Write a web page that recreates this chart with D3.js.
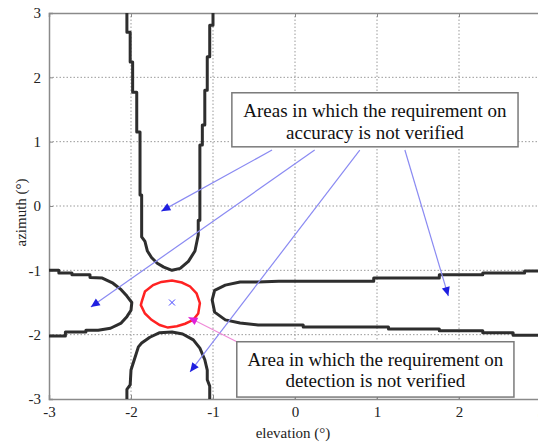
<!DOCTYPE html>
<html>
<head>
<meta charset="utf-8">
<script src="https://cdn.jsdelivr.net/npm/d3@7"></script>
<style>
  body { margin: 0; background: #fff; }
  svg, svg text { font-family: "Liberation Serif", "Times New Roman", Tinos, "DejaVu Serif", serif; }
</style>
</head>
<body>
<div id="chart"></div>
<script>
const w = 538;
const h = 443;
const margin = { top: 13, left: 49, bottom: 44 };
const serif = "'Liberation Serif', 'Times New Roman', serif";

const xTicks = [-3, -2, -1, 0, 1, 2, 3];
const yTicks = [-3, -2, -1, 0, 1, 2, 3];

// black contours (elevation, azimuth)
const topLobe = [[-2.05,3],[-2.05,2.70],[-2.01,2.70],[-2.01,2.24],[-1.98,2.24],[-1.98,1.77],[-1.93,1.77],[-1.93,1.15],[-1.89,1.15],[-1.89,0.17],[-1.87,0.17],[-1.87,-0.48],[-1.83,-0.55],[-1.80,-0.70],[-1.75,-0.80],[-1.68,-0.89],[-1.60,-0.95],[-1.50,-1.0],[-1.40,-0.97],[-1.30,-0.86],[-1.22,-0.70],[-1.18,-0.45],[-1.18,-0.22],[-1.16,-0.22],[-1.16,0.95],[-1.13,0.95],[-1.13,1.26],[-1.10,1.26],[-1.10,1.80],[-1.07,1.80],[-1.07,2.32],[-1.04,2.32],[-1.04,2.81],[-1.00,2.81],[-1.00,3]];
const bottomLobe = [[-2.05,-3],[-2.05,-2.85],[-2.01,-2.78],[-2.0,-2.55],[-1.96,-2.39],[-1.91,-2.19],[-1.87,-2.13],[-1.77,-2.04],[-1.65,-1.97],[-1.50,-1.96],[-1.37,-1.99],[-1.24,-2.08],[-1.16,-2.21],[-1.10,-2.39],[-1.07,-2.55],[-1.07,-2.70],[-1.04,-2.80],[-1.04,-3]];
const leftLobe = [[-3,-1.0],[-2.88,-1.0],[-2.88,-1.04],[-2.72,-1.04],[-2.72,-1.07],[-2.5,-1.07],[-2.5,-1.11],[-2.35,-1.12],[-2.22,-1.2],[-2.12,-1.3],[-2.05,-1.4],[-1.99,-1.5],[-2.0,-1.62],[-2.05,-1.72],[-2.12,-1.82],[-2.25,-1.9],[-2.4,-1.93],[-2.55,-1.93],[-2.55,-1.96],[-2.8,-1.96],[-2.8,-2.02],[-3,-2.02]];
const rightLobe = [[3,-1.01],[2.80,-1.01],[2.80,-1.04],[2.29,-1.04],[2.29,-1.07],[1.76,-1.07],[1.76,-1.12],[0.96,-1.12],[0.96,-1.17],[-0.2,-1.17],[-0.45,-1.18],[-0.67,-1.18],[-0.85,-1.23],[-0.98,-1.31],[-1.01,-1.46],[-0.98,-1.65],[-0.85,-1.77],[-0.67,-1.82],[-0.45,-1.85],[0.10,-1.85],[0.10,-1.88],[1.14,-1.88],[1.14,-1.91],[1.76,-1.91],[1.76,-1.94],[2.29,-1.94],[2.29,-1.97],[2.66,-1.97],[2.66,-2.01],[3,-2.01]];

// red detection contour
const detection = [[-1.87,-1.49],[-1.83,-1.33],[-1.73,-1.23],[-1.63,-1.18],[-1.50,-1.16],[-1.38,-1.19],[-1.28,-1.25],[-1.20,-1.36],[-1.16,-1.51],[-1.18,-1.67],[-1.24,-1.77],[-1.34,-1.83],[-1.44,-1.87],[-1.55,-1.89],[-1.65,-1.85],[-1.75,-1.77],[-1.83,-1.67],[-1.88,-1.54]];
const center = [-1.5, -1.5];

// annotations
const accuracyLines = ["Areas in which the requirement on", "accuracy is not verified"];
const detectionLines = ["Area in which the requirement on", "detection is not verified"];
const accuracyBox = [[-0.77, 1.76], [2.72, 0.92]];
const detectionBox = [[-0.71, -2.11], [2.67, -2.97]];
const accuracyArrows = [
  [[-0.28, 0.87], [-1.63, -0.08]],
  [[0.24, 0.87], [-2.49, -1.57]],
  [[0.79, 0.87], [-1.28, -2.58]],
  [[1.34, 0.87], [1.87, -1.40]]
];
const detectionArrow = [[-0.71, -2.11], [-1.30, -1.73]];

const x = d3.scaleLinear().domain([-3, 3]).range([margin.left, 541]);
const y = d3.scaleLinear().domain([-3, 3]).range([h - margin.bottom, margin.top]);

const svg = d3.select("#chart").append("svg").attr("width", w).attr("height", h);

const defs = svg.append("defs");
function marker(id, color) {
  defs.append("marker")
    .attr("id", id)
    .attr("markerUnits", "userSpaceOnUse")
    .attr("viewBox", "0 -5 10 10")
    .attr("refX", 10).attr("refY", 0)
    .attr("markerWidth", 10).attr("markerHeight", 9)
    .attr("orient", "auto")
    .append("path").attr("d", "M0,-4.5L10,0L0,4.5Z").attr("fill", color);
}
marker("blueHead", "#1f1fe0");
marker("pinkHead", "#e020d8");

// grid
const grid = svg.append("g").attr("stroke", "#9a9a9a").attr("stroke-width", 1).attr("stroke-dasharray", "1.5,2");
grid.selectAll(".gx").data(xTicks.slice(1)).enter().append("line")
  .attr("x1", (d) => x(d)).attr("x2", (d) => x(d))
  .attr("y1", y(-3)).attr("y2", y(3));
grid.selectAll(".gy").data(yTicks.slice(1, -1)).enter().append("line")
  .attr("x1", x(-3)).attr("x2", x(3))
  .attr("y1", (d) => y(d)).attr("y2", (d) => y(d));

// axes
const fmt = (d) => String(d);
const xAxis = svg.append("g").attr("transform", `translate(0, ${y(-3)})`)
  .call(d3.axisBottom(x).tickValues(xTicks).tickSize(-4).tickPadding(10).tickFormat(fmt));
const xAxisTop = svg.append("g").attr("transform", `translate(0, ${y(3)})`)
  .call(d3.axisTop(x).tickValues(xTicks).tickSize(-4).tickFormat(""));
const yAxis = svg.append("g").attr("transform", `translate(${x(-3)}, 0)`)
  .call(d3.axisLeft(y).tickValues(yTicks).tickSize(-4).tickPadding(8).tickFormat(fmt));
[xAxis, xAxisTop, yAxis].forEach((g) => {
  g.attr("font-family", serif).attr("font-size", 15);
  g.select(".domain").attr("stroke", "#8a8a8a").attr("stroke-width", 1.5);
  g.selectAll(".tick line").attr("stroke", "#8a8a8a");
  g.selectAll("text").attr("fill", "#222");
});
xAxis.selectAll("text").attr("dy", "0.55em");

svg.append("text").attr("x", 293).attr("y", 438).attr("text-anchor", "middle")
  .attr("font-family", serif).attr("font-size", 15).attr("fill", "#222").text("elevation (°)");
svg.append("text").attr("transform", `translate(26, ${y(-0.1)}) rotate(-90)`).attr("text-anchor", "middle")
  .attr("font-family", serif).attr("font-size", 15).attr("fill", "#222").text("azimuth (°)");

// contours
const line = d3.line().x((d) => x(d[0])).y((d) => y(d[1]));
svg.append("g").selectAll("path").data([topLobe, bottomLobe, leftLobe, rightLobe]).enter().append("path")
  .attr("d", line).attr("fill", "none").attr("stroke", "#2e2e2e").attr("stroke-width", 3)
  .attr("stroke-linejoin", "round");
svg.append("path").datum(detection).attr("d", line.curve(d3.curveLinearClosed))
  .attr("fill", "none").attr("stroke", "#ff2222").attr("stroke-width", 2.5);
line.curve(d3.curveLinear);

// centre marker
const cx = x(center[0]), cy = y(center[1]);
svg.append("path").attr("d", `M${cx - 3},${cy - 3}L${cx + 3},${cy + 3}M${cx - 3},${cy + 3}L${cx + 3},${cy - 3}`)
  .attr("stroke", "#4444ff").attr("stroke-width", 1);

// arrows
svg.append("g").selectAll("line").data(accuracyArrows).enter().append("line")
  .attr("x1", (d) => x(d[0][0])).attr("y1", (d) => y(d[0][1]))
  .attr("x2", (d) => x(d[1][0])).attr("y2", (d) => y(d[1][1]))
  .attr("stroke", "#8a8af2").attr("stroke-width", 1.2).attr("marker-end", "url(#blueHead)");
svg.append("line")
  .attr("x1", x(detectionArrow[0][0])).attr("y1", y(detectionArrow[0][1]))
  .attr("x2", x(detectionArrow[1][0])).attr("y2", y(detectionArrow[1][1]))
  .attr("stroke", "#f08ad8").attr("stroke-width", 1.2).attr("marker-end", "url(#pinkHead)");

// text boxes
function box(corners, lines, baselines) {
  const g = svg.append("g");
  g.append("rect")
    .attr("x", x(corners[0][0])).attr("y", y(corners[0][1]))
    .attr("width", x(corners[1][0]) - x(corners[0][0]))
    .attr("height", y(corners[1][1]) - y(corners[0][1]))
    .attr("fill", "#fff").attr("stroke", "#7a7a7a").attr("stroke-width", 1.5);
  const mid = (x(corners[0][0]) + x(corners[1][0])) / 2;
  g.selectAll("text").data(lines).enter().append("text")
    .attr("x", mid).attr("y", (d, i) => baselines[i])
    .attr("text-anchor", "middle").attr("font-family", serif).attr("font-size", 19).attr("fill", "#111")
    .text((d) => d);
}
box(accuracyBox, accuracyLines, [117, 139]);
box(detectionBox, detectionLines, [366, 387]);
</script>
</body>
</html>
